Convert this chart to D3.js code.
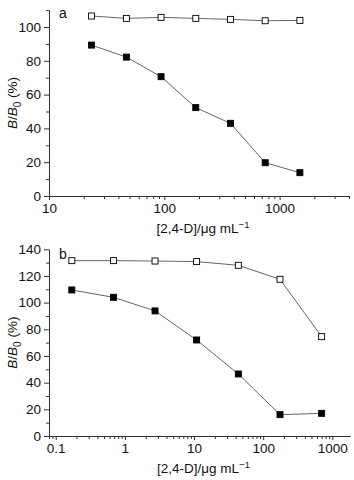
<!DOCTYPE html>
<html>
<head>
<meta charset="utf-8">
<script src="https://cdn.jsdelivr.net/npm/d3@7"></script>
<style>
  body { margin: 0; background: #fff; }
  svg { font-family: "Liberation Sans", Arial, sans-serif; }
</style>
</head>
<body>
<div id="chart"></div>
<script>
// panel a
const concA = [23.4, 46.9, 93.75, 187.5, 375, 750, 1500];
const openA = [106.5, 105.1, 105.7, 105.1, 104.5, 103.7, 103.9];
const filledA = [89.3, 82.2, 70.6, 52.3, 43.0, 19.7, 13.8];
const xTicksA = [10, 100, 1000];
const yTicksA = [0, 20, 40, 60, 80, 100];

// panel b
const concB = [0.171, 0.684, 2.73, 10.9, 43.75, 175, 700];
const openB = [131.5, 131.5, 131.2, 130.8, 128, 117.5, 74.5];
const filledB = [109.5, 104, 93.8, 72, 46.5, 16, 17];
const xTicksB = [0.1, 1, 10, 100, 1000];
const yTicksB = [0, 20, 40, 60, 80, 100, 120, 140];

const svg = d3.select("#chart")
  .append("svg")
    .attr("width", 354)
    .attr("height", 480);

function minorLog(domain) {
  const out = [];
  const lo = Math.floor(Math.log10(domain[0])), hi = Math.ceil(Math.log10(domain[1]));
  for (let e = lo; e <= hi; e++) {
    for (let m = 2; m <= 9; m++) {
      const v = m * Math.pow(10, e);
      if (v >= domain[0] && v <= domain[1]) out.push(v);
    }
  }
  return out;
}

function panel(opt) {
  const g = svg.append("g");
  const x = d3.scaleLog().domain(opt.xDomain).range(opt.xRange);
  const y = d3.scaleLinear().domain(opt.yDomain).range(opt.yRange);
  const axisColor = "#333";

  // x axis: minors then majors
  const xg = g.append("g").attr("transform", `translate(0,${opt.yRange[0]})`);
  xg.append("g")
    .call(d3.axisBottom(x).tickValues(minorLog(opt.xDomain)).tickSize(3).tickFormat("").tickSizeOuter(0));
  xg.append("g")
    .call(d3.axisBottom(x).tickValues(opt.xTicks).tickSize(4).tickPadding(3)
      .tickFormat(d => d < 1 ? String(d) : d3.format("d")(d)).tickSizeOuter(0));

  // y axis: minors then majors
  const minorsY = d3.range(opt.yDomain[0], opt.yDomain[1] + 0.1, 10).filter(v => v % 20 !== 0);
  const yg = g.append("g").attr("transform", `translate(${opt.xRange[0]},0)`);
  yg.append("g")
    .call(d3.axisLeft(y).tickValues(minorsY).tickSize(3).tickFormat("").tickSizeOuter(0));
  yg.append("g")
    .call(d3.axisLeft(y).tickValues(opt.yTicks).tickSize(5).tickPadding(3).tickSizeOuter(0));

  g.selectAll(".domain").attr("stroke", axisColor);
  g.selectAll(".tick line").attr("stroke", axisColor);
  g.selectAll(".tick text").attr("font-size", 13.5).attr("fill", "#111")
    .attr("font-family", "'Liberation Sans', Arial, sans-serif");

  // panel letter
  g.append("text").attr("x", opt.xRange[0] + 10).attr("y", opt.yRange[1] + opt.letterDy)
    .attr("font-size", 14).attr("fill", "#111").text(opt.letter);

  // axis titles
  const xt = g.append("text")
    .attr("x", (opt.xRange[0] + opt.xRange[1]) / 2 + 4)
    .attr("y", opt.yRange[0] + 37)
    .attr("text-anchor", "middle").attr("font-size", 13.5).attr("fill", "#111");
  xt.append("tspan").text("[2,4-D]/\u03bcg mL");
  xt.append("tspan").attr("dy", -5).attr("font-size", 9.5).text("\u22121");

  const yt = g.append("text")
    .attr("transform", `translate(17,${(opt.yRange[0] + opt.yRange[1]) / 2}) rotate(-90)`)
    .attr("text-anchor", "middle").attr("font-size", 13.5).attr("fill", "#111");
  yt.append("tspan").attr("font-style", "italic").text("B");
  yt.append("tspan").text("/");
  yt.append("tspan").attr("font-style", "italic").text("B");
  yt.append("tspan").attr("dy", 4).attr("font-size", 10).text("0");
  yt.append("tspan").attr("dy", -4).text(" (%)");

  // series
  const line = d3.line().x(d => x(d[0])).y(d => y(d[1]));
  [{vals: opt.open, fill: "#fff"}, {vals: opt.filled, fill: "#000"}].forEach(s => {
    const pts = opt.conc.map((c, i) => [c, s.vals[i]]);
    g.append("path").datum(pts).attr("d", line)
      .attr("fill", "none").attr("stroke", "#555").attr("stroke-width", 0.9);
    g.selectAll(null).data(pts).enter().append("rect")
      .attr("x", d => x(d[0]) - 3).attr("y", d => y(d[1]) - 3)
      .attr("width", 6).attr("height", 6)
      .attr("fill", s.fill).attr("stroke", "#000").attr("stroke-width", 0.9);
  });
}

panel({
  xDomain: [10, 4000], xRange: [49, 349],
  yDomain: [0, 110], yRange: [196, 10.1],
  xTicks: xTicksA, yTicks: yTicksA,
  conc: concA, open: openA, filled: filledA,
  letter: "a", letterDy: 8
});

panel({
  xDomain: [0.08, 1800], xRange: [49, 350],
  yDomain: [0, 140], yRange: [436, 249.3],
  xTicks: xTicksB, yTicks: yTicksB,
  conc: concB, open: openB, filled: filledB,
  letter: "b", letterDy: 10
});
</script>
</body>
</html>
